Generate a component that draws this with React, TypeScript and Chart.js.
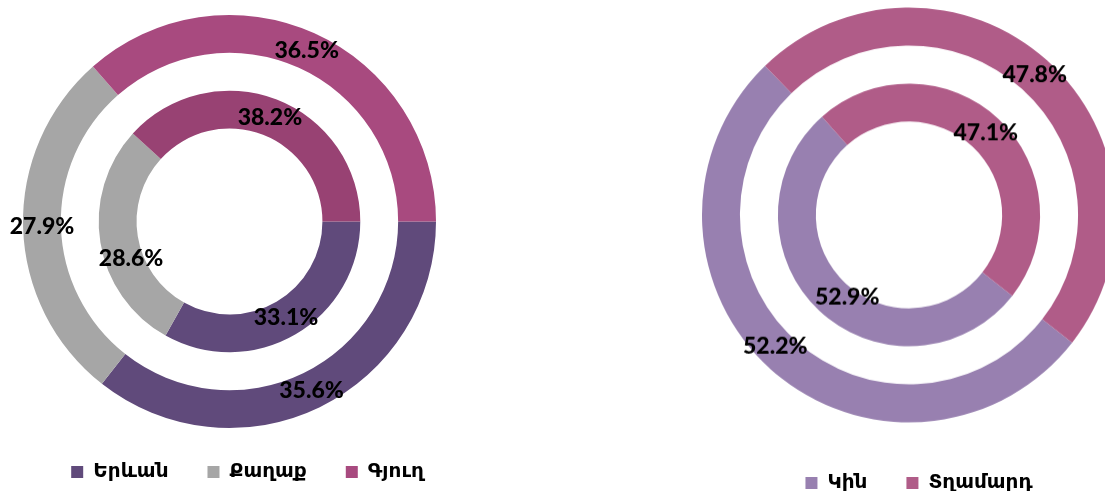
import React, { useEffect, useRef } from "react";
import { Chart, registerables } from "chart.js";

Chart.register(...registerables);

// ---- Data ----
const regionLabels = ["Երևան", "Քաղաք", "Գյուղ"];
const regionOuter = [35.6, 27.9, 36.5];
const regionInner = [33.1, 28.6, 38.2];

const genderLabels = ["Կին", "Տղամարդ"];
const genderOuter = [52.2, 47.8];
const genderInner = [52.9, 47.1];

// ---- Styles ----
const regionOuterColors = ["#604A7B", "#A6A6A6", "#A84A7F"];
const regionInnerColors = ["#604A7B", "#A6A6A6", "#984273"];
const genderColors = ["#9880B0", "#B05C88"];

const LABEL_FONT = "900 23px Lato, 'Open Sans', sans-serif";
const LEGEND_FONT_FAMILY = "'DejaVu Sans', 'Noto Sans', sans-serif";

const pctLabelsPlugin = {
  id: "pctLabels",
  afterLayout(chart: any, _args: any, opts: any) {
    const dx = (opts && opts.legendShift) || 0;
    const dy = (opts && opts.legendShiftY) || 0;
    if (chart.legend) {
      chart.legend.left += dx;
      chart.legend.right += dx;
      chart.legend.top += dy;
      chart.legend.bottom += dy;
    }
  },
  afterDatasetsDraw(chart: any, _args: any, opts: any) {
    const ctx = chart.ctx;
    ctx.save();
    ctx.font = LABEL_FONT;
    ctx.fillStyle = "#000";
    ctx.textAlign = "center";
    ctx.textBaseline = "middle";
    chart.data.datasets.forEach((ds: any, di: number) => {
      if (ds.isSpacer) return;
      const meta = chart.getDatasetMeta(di);
      meta.data.forEach((arc: any, i: number) => {
        const p = arc.tooltipPosition(false);
        const off = (opts && opts.offsets && opts.offsets[di] && opts.offsets[di][i]) || [0, 0];
        ctx.fillText(Number(ds.data[i]).toFixed(1) + "%", p.x + off[0], p.y + off[1]);
      });
    });
    ctx.restore();
  },
};

type RingProps = {
  labels: string[];
  outer: number[];
  inner: number[];
  outerColors: string[];
  innerColors: string[];
  rotation: number;
  padTop: number;
  legendPad: number;
  legendShift: number;
  legendShiftY: number;
  offsets: Record<number, Record<number, [number, number]>>;
};

function RingChart(props: RingProps) {
  const ref = useRef<HTMLCanvasElement | null>(null);
  useEffect(() => {
    if (!ref.current) return;
    const chart = new Chart(ref.current, {
      type: "doughnut",
      data: {
        labels: props.labels,
        datasets: [
          {
            data: props.outer,
            backgroundColor: props.outerColors,
            borderWidth: 0,
            rotation: props.rotation,
          } as any,
          {
            data: [1],
            backgroundColor: ["rgba(0,0,0,0)"],
            borderWidth: 0,
            isSpacer: true,
            rotation: props.rotation,
          } as any,
          {
            data: props.inner,
            backgroundColor: props.innerColors,
            borderWidth: 0,
            rotation: props.rotation,
          } as any,
        ],
      },
      options: {
        animation: false,
        responsive: true,
        maintainAspectRatio: false,
        cutout: "45%",
        rotation: props.rotation,
        layout: { padding: { top: props.padTop, bottom: 0, left: 0, right: 0 } },
        events: [],
        plugins: {
          tooltip: { enabled: false },
          legend: {
            display: true,
            position: "bottom",
            labels: {
              boxWidth: 12,
              boxHeight: 12,
              padding: props.legendPad,
              color: "#000",
              font: { family: LEGEND_FONT_FAMILY, size: 20, weight: "bold" },
            },
          },
          pctLabels: {
            offsets: props.offsets,
            legendShift: props.legendShift,
            legendShiftY: props.legendShiftY,
          },
        } as any,
      },
      plugins: [pctLabelsPlugin],
    });
    return () => chart.destroy();
  }, []);
  return <canvas ref={ref} />;
}

export default function App() {
  return (
    <div
      style={{
        position: "fixed",
        left: 0,
        top: 0,
        width: 1105,
        height: 494,
        overflow: "hidden",
        background: "#fff",
      }}
    >
      <div style={{ position: "absolute", left: 0, top: 0, width: 459, height: 497 }}>
        <RingChart
          labels={regionLabels}
          outer={regionOuter}
          inner={regionInner}
          outerColors={regionOuterColors}
          innerColors={regionInnerColors}
          rotation={90}
          padTop={15}
          legendPad={39}
          legendShift={18}
          legendShiftY={-5}
          offsets={{ 2: { 1: [12, 19] } }}
        />
      </div>
      <div style={{ position: "absolute", left: 689, top: 0, width: 440, height: 490.5 }}>
        <RingChart
          labels={genderLabels}
          outer={genderOuter}
          inner={genderInner}
          outerColors={genderColors}
          innerColors={genderColors}
          rotation={128}
          padTop={7.5}
          legendPad={39}
          legendShift={10}
          legendShiftY={11.5}
          offsets={{ 0: { 0: [-8, -9] }, 2: { 0: [15, 0] } }}
        />
      </div>
    </div>
  );
}
